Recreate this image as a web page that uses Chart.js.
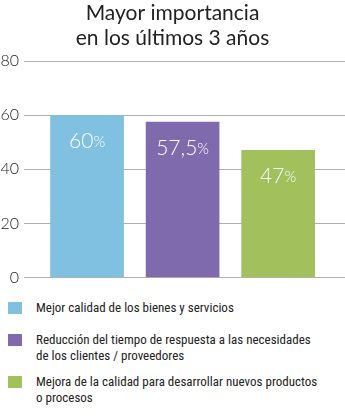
<!DOCTYPE html>
<html>
<head>
<meta charset="utf-8">
<script src="https://cdn.jsdelivr.net/npm/chart.js@4.4.1/dist/chart.umd.min.js"></script>
<style>
  html, body { margin: 0; padding: 0; background: #fff; }
  #wrap { position: relative; width: 345px; height: 417px; overflow: hidden; }
  #box { position: absolute; left: 0; top: 0; width: 345px; height: 292px; }
  #legend { position: absolute; left: 0; top: 300px; width: 345px;
    font-family: "Liberation Sans Narrow", "Roboto Condensed", "Lato", sans-serif; font-stretch: condensed;
    font-size: 13px; color: #222; line-height: 16px; }
  .item { position: relative; padding-left: 36px; }
  .sw { position: absolute; left: 8px; top: 2px; width: 14px; height: 12px; }
</style>
</head>
<body>
<div id="wrap">
  <div id="box"><canvas id="c"></canvas></div>
  <div id="legend"></div>
</div>
<script>
const titleLines = ['Mayor importancia', 'en los últimos 3 años'];
const categories = [
  'Mejor calidad de los bienes y servicios',
  'Reducción del tiempo de respuesta a las necesidades de los clientes / proveedores',
  'Mejora de la calidad para desarrollar nuevos productos o procesos'
];
const legendLines = [
  ['Mejor calidad de los bienes y servicios'],
  ['Reducción del tiempo de respuesta a las necesidades', 'de los clientes / proveedores'],
  ['Mejora de la calidad para desarrollar nuevos productos', 'o procesos']
];
const values = [60, 57.5, 47];
const valueLabels = ['60', '57,5', '47'];
const colors = ['#80c0e0', '#806aae', '#a2c05c'];
const yTicks = [0, 20, 40, 60, 80];

const legendGaps = [16, 10, 0];
const legend = document.getElementById('legend');
legendLines.forEach((lines, i) => {
  const d = document.createElement('div');
  d.className = 'item';
  d.style.marginBottom = legendGaps[i] + 'px';
  const s = document.createElement('span');
  s.className = 'sw';
  s.style.background = colors[i];
  d.appendChild(s);
  lines.forEach((t, j) => {
    if (j) d.appendChild(document.createElement('br'));
    d.appendChild(document.createTextNode(t));
  });
  legend.appendChild(d);
});

const valuePlugin = {
  id: 'valueLabels',
  afterDatasetsDraw(chart) {
    const ctx = chart.ctx;
    const meta = chart.getDatasetMeta(0);
    ctx.save();
    ctx.fillStyle = '#ffffff';
    ctx.textBaseline = 'alphabetic';
    meta.data.forEach((bar, i) => {
      const num = valueLabels[i];
      ctx.font = '300 21px "Lato", sans-serif';
      const w1 = ctx.measureText(num).width;
      ctx.font = '300 15px "Lato", sans-serif';
      const w2 = ctx.measureText('%').width;
      const x0 = bar.x - (w1 + w2) / 2;
      const y = bar.y + 33;
      ctx.font = '300 21px "Lato", sans-serif';
      ctx.textAlign = 'left';
      ctx.fillText(num, x0, y);
      ctx.font = '300 15px "Lato", sans-serif';
      ctx.fillText('%', x0 + w1, y - 1);
    });
    ctx.restore();
  }
};

new Chart(document.getElementById('c'), {
  type: 'bar',
  data: {
    datasets: [{
      label: 'Mayor importancia',
      data: values.map((v, i) => ({ x: i, y: v })),
      backgroundColor: colors,
      borderWidth: 0,
      barThickness: 73
    }]
  },
  options: {
    responsive: true,
    maintainAspectRatio: false,
    animation: false,
    layout: { padding: { top: 0, bottom: 6, left: 0, right: 0 } },
    plugins: {
      legend: { display: false },
      tooltip: { enabled: false },
      title: {
        display: true,
        text: titleLines,
        color: '#222',
        font: { family: 'Lato', size: 21, weight: '400', lineHeight: 1.22 },
        padding: { top: 0, bottom: 10 }
      }
    },
    scales: {
      x: {
        type: 'linear',
        offset: false,
        min: -0.66,
        max: 2.7,
        display: false,
        grid: { display: false, offset: false }
      },
      y: {
        min: 0,
        max: 80,
        afterBuildTicks: s => { s.ticks = yTicks.map(v => ({ value: v })); },
        afterFit: s => { s.width = 24; },
        border: { display: false },
        grid: { color: '#b0b0b0', lineWidth: 1, drawTicks: false },
        ticks: {
          color: '#222',
          padding: 5,
          font: { family: 'Lato', size: 16, weight: '300' }
        }
      }
    }
  },
  plugins: [valuePlugin]
});
</script>
</body>
</html>
